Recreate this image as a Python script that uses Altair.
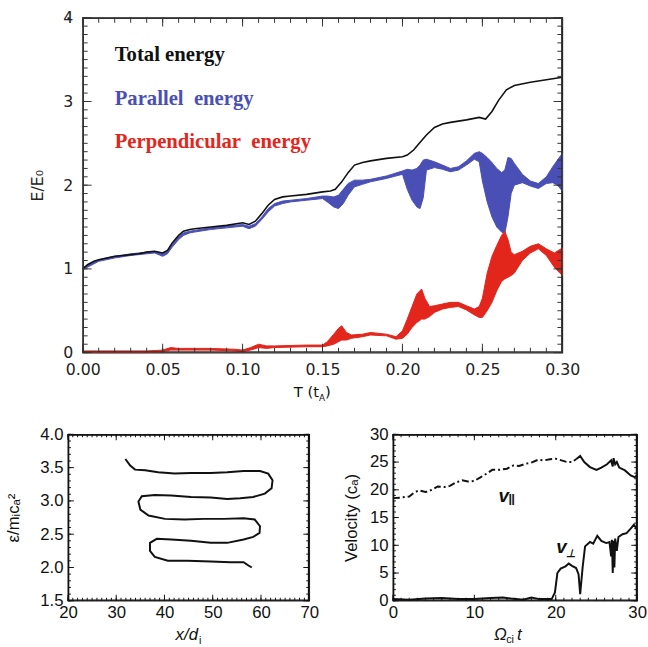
import altair as alt
import pandas as pd

# ---------------- Top panel: energy partition vs time ----------------
t_total = [0.000, 0.003, 0.007, 0.010, 0.015, 0.020, 0.025, 0.030, 0.035, 0.040,
           0.045, 0.050, 0.053, 0.056, 0.060, 0.063, 0.067, 0.070, 0.080, 0.090,
           0.100, 0.104, 0.108, 0.112, 0.116, 0.120, 0.125, 0.130, 0.140, 0.150,
           0.155, 0.158, 0.162, 0.166, 0.170, 0.175, 0.180, 0.190, 0.200, 0.203,
           0.207, 0.210, 0.215, 0.220, 0.225, 0.230, 0.240, 0.248, 0.252, 0.256,
           0.260, 0.265, 0.270, 0.280, 0.290, 0.300]
e_total = [1.00, 1.05, 1.09, 1.11, 1.13, 1.15, 1.16, 1.17, 1.18, 1.20,
           1.21, 1.19, 1.22, 1.31, 1.40, 1.45, 1.47, 1.48, 1.50, 1.52,
           1.55, 1.53, 1.57, 1.66, 1.76, 1.83, 1.86, 1.87, 1.89, 1.92,
           1.93, 1.95, 2.04, 2.15, 2.24, 2.27, 2.29, 2.32, 2.34, 2.36,
           2.42, 2.49, 2.60, 2.69, 2.73, 2.75, 2.78, 2.81, 2.79, 2.88,
           3.01, 3.14, 3.19, 3.23, 3.26, 3.29]

# parallel energy: lower / upper envelope of the oscillating trace
t_par = [0.000, 0.010, 0.020, 0.030, 0.040, 0.045, 0.050, 0.053, 0.056, 0.060,
         0.063, 0.067, 0.070, 0.080, 0.090, 0.100, 0.104, 0.108, 0.112, 0.116,
         0.120, 0.125, 0.130, 0.140, 0.150, 0.153, 0.157, 0.160, 0.163, 0.166,
         0.170, 0.175, 0.180, 0.190, 0.200, 0.203, 0.206, 0.209, 0.211, 0.213,
         0.215, 0.220, 0.225, 0.230, 0.235, 0.240, 0.245, 0.248, 0.250, 0.253,
         0.256, 0.259, 0.262, 0.264, 0.266, 0.268, 0.270, 0.275, 0.280, 0.285,
         0.290, 0.294, 0.297, 0.300]
par_lo = [0.99, 1.09, 1.13, 1.16, 1.18, 1.19, 1.15, 1.18, 1.26, 1.35,
          1.40, 1.43, 1.44, 1.47, 1.49, 1.51, 1.48, 1.51, 1.59, 1.68,
          1.75, 1.78, 1.80, 1.82, 1.84, 1.80, 1.74, 1.72, 1.78, 1.88,
          1.98, 2.01, 2.04, 2.08, 2.13, 1.95, 1.82, 1.74, 1.72, 1.85,
          2.18, 2.21, 2.19, 2.16, 2.18, 2.24, 2.31, 2.28, 2.05, 1.80,
          1.62, 1.50, 1.44, 1.42, 1.62, 1.90, 2.00, 2.03, 1.99, 1.96,
          2.02, 2.03, 2.00, 1.93]
par_hi = [1.01, 1.11, 1.15, 1.18, 1.20, 1.21, 1.18, 1.21, 1.29, 1.38,
          1.43, 1.45, 1.46, 1.49, 1.51, 1.53, 1.51, 1.54, 1.62, 1.72,
          1.78, 1.81, 1.82, 1.84, 1.87, 1.87, 1.86, 1.88, 1.95, 2.02,
          2.06, 2.06, 2.07, 2.11, 2.17, 2.19, 2.18, 2.20, 2.24, 2.30,
          2.31, 2.28, 2.24, 2.20, 2.22, 2.29, 2.38, 2.40, 2.38, 2.33,
          2.27, 2.20, 2.15, 2.18, 2.33, 2.32, 2.26, 2.13, 2.05, 2.02,
          2.10, 2.22, 2.30, 2.38]

# perpendicular energy: lower / upper envelope
t_perp = [0.000, 0.020, 0.040, 0.050, 0.055, 0.060, 0.080, 0.095, 0.100, 0.105,
          0.110, 0.115, 0.120, 0.140, 0.150, 0.153, 0.157, 0.160, 0.162, 0.165,
          0.168, 0.175, 0.180, 0.190, 0.196, 0.200, 0.203, 0.206, 0.209, 0.212,
          0.214, 0.217, 0.220, 0.225, 0.230, 0.235, 0.240, 0.245, 0.248, 0.250,
          0.253, 0.256, 0.259, 0.262, 0.264, 0.266, 0.268, 0.270, 0.275, 0.280,
          0.285, 0.290, 0.295, 0.300]
perp_lo = [0.00, 0.00, 0.00, 0.01, 0.03, 0.03, 0.03, 0.02, 0.01, 0.03,
           0.06, 0.05, 0.06, 0.07, 0.07, 0.08, 0.10, 0.13, 0.15, 0.15,
           0.17, 0.19, 0.21, 0.20, 0.16, 0.17, 0.22, 0.30, 0.36, 0.40,
           0.40, 0.43, 0.48, 0.52, 0.54, 0.55, 0.51, 0.45, 0.42, 0.42,
           0.50, 0.60, 0.74, 0.85, 0.88, 0.90, 0.92, 0.95, 1.10, 1.19,
           1.24, 1.16, 1.02, 0.92]
perp_hi = [0.02, 0.02, 0.02, 0.03, 0.06, 0.05, 0.05, 0.04, 0.03, 0.06,
           0.10, 0.08, 0.08, 0.09, 0.09, 0.13, 0.22, 0.29, 0.32, 0.24,
           0.21, 0.22, 0.24, 0.22, 0.19, 0.26, 0.40, 0.55, 0.70, 0.76,
           0.65, 0.55, 0.56, 0.58, 0.60, 0.60, 0.56, 0.52, 0.55, 0.65,
           0.95, 1.15, 1.28, 1.40, 1.45, 1.35, 1.20, 1.17, 1.21, 1.27,
           1.30, 1.24, 1.19, 1.25]

legend_text = ["Total energy", "Parallel\u00a0 energy", "Perpendicular\u00a0 energy"]
legend_color = ["#111111", "#4a4fb6", "#e3261c"]
legend_T = [0.020, 0.020, 0.020]
legend_E = [3.48, 2.96, 2.44]

# ---------------- Bottom-left: guiding-centre trajectory ----------------
traj_x = [31.9, 32.9, 33.9, 36.0, 38.7, 42.1, 45.5, 49.6, 53.0, 56.4,
          59.8, 61.5, 62.4, 62.2, 60.8, 58.4, 55.7, 53.0, 49.6, 45.5,
          41.4, 38.0, 35.3, 34.6, 35.0, 36.7, 40.1, 44.1, 48.2, 52.3,
          56.4, 58.7, 59.8, 59.7, 58.4, 56.4, 53.0, 49.6, 45.5, 41.4,
          38.4, 37.0, 37.0, 38.0, 40.7, 44.8, 49.6, 53.7, 56.4, 57.4, 58.1]
traj_eps = [3.63, 3.53, 3.47, 3.46, 3.43, 3.41, 3.42, 3.42, 3.43, 3.45,
            3.45, 3.41, 3.31, 3.19, 3.11, 3.06, 3.04, 3.03, 3.05, 3.06,
            3.08, 3.09, 3.07, 2.99, 2.87, 2.78, 2.73, 2.72, 2.73, 2.73,
            2.74, 2.72, 2.62, 2.52, 2.46, 2.42, 2.37, 2.37, 2.40, 2.42,
            2.43, 2.37, 2.25, 2.16, 2.10, 2.10, 2.09, 2.08, 2.08, 2.03, 2.00]

# ---------------- Bottom-right: velocity components ----------------
t_vpar = [0.0, 1.0, 2.0, 2.6, 3.2, 4.0, 4.8, 5.5, 6.3, 7.0,
          7.7, 8.5, 9.2, 10.0, 10.8, 11.5, 12.2, 13.0, 14.0, 14.8,
          15.5, 16.3, 17.0, 17.8, 18.5, 19.3, 20.0, 20.7, 21.4, 22.0,
          22.5, 23.0, 23.5, 24.2, 25.0, 25.6, 26.3, 26.8, 27.0, 27.1,
          27.3, 27.5, 27.8, 28.5, 29.2, 29.7, 30.0]
v_par = [18.5, 18.6, 18.8, 19.5, 19.9, 19.6, 20.0, 20.6, 20.5, 20.7,
         21.3, 21.7, 21.5, 21.6, 22.3, 22.9, 23.6, 23.6, 23.8, 24.4,
         24.3, 24.7, 24.9, 25.4, 25.3, 25.5, 25.6, 25.3, 25.0, 25.0,
         25.5, 26.1, 25.0, 24.1, 23.6, 24.0, 24.6, 25.3, 24.2, 25.7,
         24.6, 25.0, 24.0, 23.5, 22.6, 22.3, 22.6]
t_vperp = [0.0, 2.0, 4.0, 6.0, 8.0, 10.0, 12.0, 13.5, 14.5, 16.0,
           17.0, 18.0, 19.5, 19.9, 20.2, 20.6, 21.2, 21.6, 22.0, 22.5,
           22.8, 23.0, 23.3, 23.6, 24.2, 24.6, 25.1, 25.6, 26.2, 26.6,
           26.8, 26.9, 27.0, 27.1, 27.2, 27.3, 27.5, 27.7, 28.2, 28.7,
           29.2, 29.6, 30.0]
v_perp = [0.3, 0.2, 0.4, 0.5, 0.3, 0.3, 0.5, 0.6, 0.4, 0.2,
          0.6, 0.3, 0.3, 1.5, 5.0, 5.8, 6.2, 6.7, 6.3, 5.9,
          4.8, 1.2, 6.0, 9.8, 10.6, 10.3, 11.7, 10.8, 10.4, 10.6,
          8.0, 11.0, 5.0, 10.8, 6.0, 11.2, 9.0, 11.5, 12.0, 12.2,
          13.0, 13.7, 12.8]
DASH_END = 22.5  # v_par is drawn dash-dotted up to here, solid afterwards

# ---------------- styling ----------------
BLUE, RED, INK = "#4a4fb6", "#e3261c", "#111111"
TOP_FONT = "DejaVu Sans"
BOT_FONT = "Liberation Sans"

one = pd.DataFrame({"a": [0]})


class Panel:
    """Shared scales, axes and field names of one framed panel."""

    def __init__(self, xdom, ydom, xaxis, yaxis, W, H, xf, yf):
        self.xdom, self.ydom = xdom, ydom
        self.xs = alt.Scale(domain=xdom, nice=False, zero=False)
        self.ys = alt.Scale(domain=ydom, nice=False, zero=False)
        self.xaxis = xaxis
        self.yaxis = yaxis
        self.W, self.H = W, H
        self.xf, self.yf = xf, yf

    def x(self, field):
        return alt.X(field, type="quantitative", scale=self.xs, axis=self.xaxis)

    def y(self, field):
        return alt.Y(field, type="quantitative", scale=self.ys, axis=self.yaxis)

    def guides(self, xmaj, xmin, ymaj, ymin, lmaj, lmin, color, frame_width):
        """Frame plus inward-pointing ticks on all four sides (sizes in pixels),
        each drawn as a thin filled box in the panel's data coordinates."""
        x0, x1 = self.xdom
        y0, y1 = self.ydom
        px_x = (x1 - x0) / self.W
        px_y = (y1 - y0) / self.H
        hx, hy = 0.5 * px_x, 0.5 * px_y
        boxes = []
        for vals, L in ((xmin, lmin), (xmaj, lmaj)):
            for v in vals:
                boxes.append((v - hx, v + hx, y0, y0 + L * px_y))
                boxes.append((v - hx, v + hx, y1 - L * px_y, y1))
        for vals, L in ((ymin, lmin), (ymaj, lmaj)):
            for v in vals:
                boxes.append((x0, x0 + L * px_x, v - hy, v + hy))
                boxes.append((x1 - L * px_x, x1, v - hy, v + hy))
        fx, fy = frame_width * px_x, frame_width * px_y
        boxes += [(x0, x1, y0, y0 + fy), (x0, x1, y1 - fy, y1),
                  (x0, x0 + fx, y0, y1), (x1 - fx, x1, y0, y1)]
        rows = []
        for s, (xa, xb, ya, yb) in enumerate(boxes):
            rows.append((s, xa, ya, yb))
            rows.append((s, xb, ya, yb))
        df = pd.DataFrame(rows, columns=["seg", self.xf, self.yf, "edge_hi"])
        return alt.Chart(df).mark_area(color=color, opacity=1).encode(
            x=self.x(self.xf),
            y=alt.Y(self.yf, type="quantitative", scale=self.ys, axis=self.yaxis, stack=None),
            y2="edge_hi:Q",
            detail="seg:N",
        )


def label_text(txt, x, y, size, font, align="left", style="normal", weight="normal"):
    return alt.Chart(one).mark_text(
        text=txt, align=align, baseline="alphabetic", font=font, fontSize=size,
        fontStyle=style, fontWeight=weight, color=INK,
    ).encode(x=alt.value(x), y=alt.value(y))


def axis(values, fmt, font, size, lpad, title=None, tpad=0, color=INK):
    kw = dict(values=values, format=fmt, labelFont=font, labelFontSize=size,
              labelColor=color, labelPadding=lpad, labelFlush=False, labelOverlap=False)
    if title is None:
        kw["title"] = None
    else:
        kw.update(title=title, titleFont=font, titleFontSize=size, titleFontWeight="normal",
                  titleColor=color, titlePadding=tpad)
    return alt.Axis(**kw)


# ---------------- top panel ----------------
TW, TH = 487, 340
top_x_major = [0.0, 0.05, 0.10, 0.15, 0.20, 0.25, 0.30]
top_x_minor = [round(i * 0.01, 2) for i in range(31)]
top_y_major = [0, 1, 2, 3, 4]
top_y_minor = [round(i * 0.1, 1) for i in range(41)]

P = Panel([0, 0.30], [0, 4],
          axis(top_x_major, ".2f", TOP_FONT, 16, 9, color="#222"),
          axis(top_y_major, "d", TOP_FONT, 16, 10, title="E/E\u2080", tpad=18, color="#222"),
          TW, TH, "T", "E")

par_band = alt.Chart(pd.DataFrame({"T": t_par, "E": par_lo, "hi": par_hi})).mark_area(
    color=BLUE, stroke=BLUE, strokeWidth=1, opacity=1
).encode(x=P.x("T"), y=P.y("E"), y2="hi:Q")

perp_band = alt.Chart(pd.DataFrame({"T": t_perp, "E": perp_lo, "hi": perp_hi})).mark_area(
    color=RED, stroke=RED, strokeWidth=1, opacity=1
).encode(x=P.x("T"), y=P.y("E"), y2="hi:Q")

total_line = alt.Chart(pd.DataFrame({"T": t_total, "E": e_total})).mark_line(
    color=INK, strokeWidth=1.6
).encode(x=P.x("T"), y=P.y("E"))

legend = alt.Chart(pd.DataFrame({"T": legend_T, "E": legend_E, "label": legend_text,
                                 "color": legend_color})).mark_text(
    align="left", baseline="alphabetic", font="Liberation Serif", fontWeight="bold", fontSize=21
).encode(x=P.x("T"), y=P.y("E"), text="label:N", color=alt.Color("color:N", scale=None))

top_title = [
    label_text("T (t", 240, 385, 15, TOP_FONT, align="right"),
    label_text("A", 240, 389, 9, TOP_FONT),
    label_text(")", 246, 385, 15, TOP_FONT),
]

top = alt.layer(
    par_band, perp_band, total_line, legend,
    P.guides(top_x_major, top_x_minor, top_y_major, top_y_minor, 9, 5, "#333", 1.3),
    *top_title,
).properties(width=TW, height=TH)

# narrow invisible cell that pushes the top plot area right of the lower-left one
spacer = alt.Chart(one).mark_point(opacity=0).encode(
    x=alt.value(0), y=alt.value(1)
).properties(width=1, height=1)

# ---------------- bottom-left panel ----------------
LW, LH = 245, 169
l_x_major = [20, 30, 40, 50, 60, 70]
l_x_minor = list(range(20, 71))
l_y_major = [1.5, 2.0, 2.5, 3.0, 3.5, 4.0]
l_y_minor = [round(1.5 + i * 0.1, 1) for i in range(26)]

L = Panel([20, 70], [1.5, 4.0],
          axis(l_x_major, "d", BOT_FONT, 17, 4),
          axis(l_y_major, ".1f", BOT_FONT, 17, 5, title="\u03b5/m\u1d62c\u2090\u00b2", tpad=18),
          LW, LH, "x", "eps")

traj = alt.Chart(pd.DataFrame({"x": traj_x, "eps": traj_eps,
                               "k": list(range(len(traj_x)))})).mark_line(
    color=INK, strokeWidth=2
).encode(x=L.x("x"), y=L.y("eps"), order="k:Q")

left_title = [
    label_text("x/d", 132, 209, 17, BOT_FONT, align="right", style="italic"),
    label_text("i", 133, 213, 11, BOT_FONT),
]

left = alt.layer(
    traj,
    L.guides(l_x_major, l_x_minor, l_y_major, l_y_minor, 6, 3, INK, 1.4),
    *left_title,
).properties(width=LW, height=LH)

# ---------------- bottom-right panel ----------------
RW, RH = 248, 169
r_x_major = [0, 10, 20, 30]
r_x_minor = list(range(0, 31))
r_y_major = [0, 5, 10, 15, 20, 25, 30]
r_y_minor = list(range(0, 31))

R = Panel([0, 30], [0, 30],
          axis(r_x_major, "d", BOT_FONT, 17, 4),
          axis(r_y_major, "d", BOT_FONT, 17, 5, title="Velocity (c\u2090)", tpad=9),
          RW, RH, "t", "v")

vpar = pd.DataFrame({"t": t_vpar, "v": v_par})
vpar_dash = alt.Chart(vpar[vpar["t"] <= DASH_END]).mark_line(
    color=INK, strokeWidth=2, strokeDash=[7, 3, 2, 3]
).encode(x=R.x("t"), y=R.y("v"))
vpar_solid = alt.Chart(vpar[vpar["t"] >= DASH_END]).mark_line(
    color=INK, strokeWidth=2
).encode(x=R.x("t"), y=R.y("v"))

vperp_line = alt.Chart(pd.DataFrame({"t": t_vperp, "v": v_perp})).mark_line(
    color=INK, strokeWidth=2
).encode(x=R.x("t"), y=R.y("v"))

curve_labels = alt.Chart(pd.DataFrame({
    "t": [13.6, 14.6, 20.7, 21.8],
    "v": [18.8, 17.9, 9.6, 8.4],
    "txt": ["v", "\u2016", "v", "\u22a5"],
    "size": [19, 14, 19, 11],
})).mark_text(font=BOT_FONT, fontStyle="italic", fontWeight="bold", color=INK,
              baseline="middle").encode(
    x=R.x("t"), y=R.y("v"), text="txt:N", size=alt.Size("size:Q", scale=None),
)

right_title = [
    label_text("\u03a9", 109, 209, 17, BOT_FONT, align="center", style="italic"),
    label_text("ci", 115, 212, 11, BOT_FONT),
    label_text("t", 126, 209, 17, BOT_FONT, style="italic"),
]

right = alt.layer(
    vpar_dash, vpar_solid, vperp_line, curve_labels,
    R.guides(r_x_major, r_x_minor, r_y_major, r_y_minor, 6, 3, INK, 1.4),
    *right_title,
).properties(width=RW, height=RH)

# ---------------- assemble ----------------
top_row = alt.hconcat(spacer, top, spacing=14, bounds="flush")
bottom_row = alt.hconcat(left, right, spacing=22)
chart = alt.vconcat(top_row, bottom_row, spacing=21).properties(
    padding={"left": 3, "top": 4, "right": 0, "bottom": 0}
).configure_view(stroke="#222", strokeWidth=1.3).configure_axis(
    ticks=False, domain=False, grid=False
)

chart.save("out.html", embed_options={"renderer": "svg", "actions": False})
